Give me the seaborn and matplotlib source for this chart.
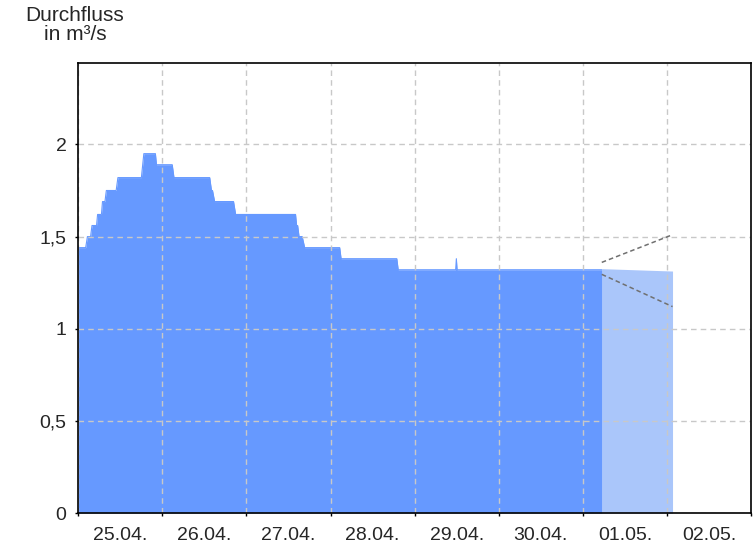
import matplotlib
matplotlib.use("Agg")
import matplotlib.pyplot as plt
import seaborn as sns
import pandas as pd
from matplotlib.ticker import FuncFormatter

# observed discharge (hours since 25.04. 00:00, m³/s)
obs_hours = [0, 2.1, 2.6, 3.5, 3.9, 5.2, 5.5, 6.6, 6.9, 7.6, 8.0, 10.8, 11.3, 18.0,
             18.7, 22.0, 22.3, 26.8, 27.3, 37.5, 38.0, 38.3, 38.9, 44.3, 44.9, 62.0,
             62.3, 62.6, 63.0, 63.9, 64.6, 74.6, 75.0, 90.9, 91.3, 107.7, 107.9,
             108.1, 149.4]
obs_values = [1.44, 1.44, 1.50, 1.50, 1.56, 1.56, 1.62, 1.62, 1.69, 1.69, 1.75, 1.75,
              1.82, 1.82, 1.95, 1.95, 1.89, 1.89, 1.82, 1.82, 1.75, 1.75, 1.69, 1.69,
              1.62, 1.62, 1.56, 1.56, 1.50, 1.50, 1.44, 1.44, 1.38, 1.38, 1.32, 1.32,
              1.38, 1.32, 1.32]

# forecast
fc_hours = [149.4, 169.6]
fc_values = [1.326, 1.313]
fc_upper = [1.36, 1.51]
fc_lower = [1.295, 1.12]

day_labels = ["25.04.", "26.04.", "27.04.", "28.04.", "29.04.", "30.04.", "01.05.", "02.05."]

sns.set_style("ticks")
plt.rcParams['font.family'] = ['Liberation Sans', 'DejaVu Sans']

fig = plt.figure(figsize=(7.56, 5.46), dpi=100)
ax = fig.add_axes([0.1036, 0.0604, 0.8898, 0.8236])

obs = pd.DataFrame({"h": obs_hours, "q": obs_values})
fc = pd.DataFrame({"h": fc_hours, "q": fc_values})

ax.fill_between(fc["h"], fc["q"], color="#aac6fa", lw=0, zorder=1)
ax.fill_between(obs["h"], obs["q"], color="#6699ff", lw=0, zorder=1.2)
sns.lineplot(data=obs, x="h", y="q", color="#6699ff", lw=0.8, ax=ax, zorder=1.3)

band = pd.DataFrame({"h": fc_hours * 2, "q": fc_upper + fc_lower,
                     "s": ["up", "up", "low", "low"]})
sns.lineplot(data=band, x="h", y="q", units="s", estimator=None, color="#707070",
             lw=1.1, dashes=False, ax=ax, zorder=3)
for l in ax.lines[-2:]:
    l.set_dashes([3, 2])

ax.set_xlim(0, 192)
ax.set_ylim(0, 2.44)
ax.set_xticks([i * 24 for i in range(9)])
ax.set_xticklabels([])
ax.set_xticks([12 + i * 24 for i in range(len(day_labels))], minor=True)
ax.set_xticklabels(day_labels, minor=True)
ax.set_yticks([0, 0.5, 1, 1.5, 2])
ax.yaxis.set_major_formatter(FuncFormatter(lambda v, p: ("%g" % v).replace(".", ",")))
ax.tick_params(axis="x", which="major", length=2.5, width=1, color="black")
ax.tick_params(axis="x", which="minor", length=0, labelsize=14, pad=10)
ax.tick_params(axis="y", length=2.5, width=1, color="black", labelsize=14, pad=6)
ax.set_xlabel("")
ax.set_ylabel("")

ax.set_axisbelow(False)
ax.grid(True, which="major", color="#c8c8c8", lw=1, linestyle=(0, (4, 3)), zorder=2)
for s in ax.spines.values():
    s.set_color("black")
    s.set_linewidth(1.2)
    s.set_zorder(4)

fig.text(0.099, 0.989, "Durchfluss\nin m³/s", ha="center", va="top", fontsize=15,
         linespacing=1.0, multialignment="center")

fig.savefig("out.png", dpi=100)
